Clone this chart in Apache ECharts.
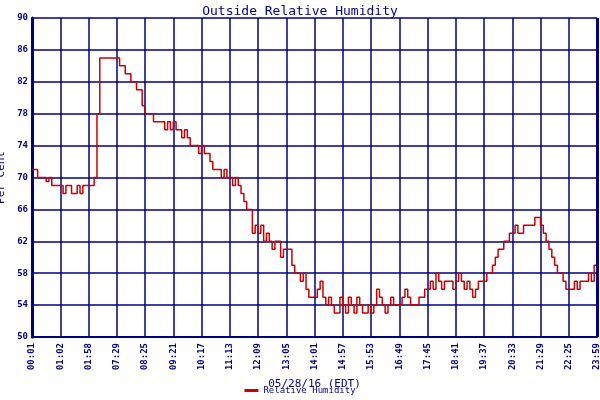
<!DOCTYPE html>
<html><head><meta charset="utf-8">
<script src="https://cdn.jsdelivr.net/npm/echarts@6/dist/echarts.min.js"></script>
<style>html,body{margin:0;background:#fff}#c{width:600px;height:400px}</style>
</head><body><div id="c"></div>
<script>
const tickLabels = ["00:01","01:02","01:58","07:29","08:25","09:21","10:17","11:13","12:09","13:05","14:01","14:57","15:53","16:49","17:45","18:41","19:37","20:33","21:29","22:25","23:59"];
const humidity = [
71,71,70,70,70,69.5,70,69,69,69,
69,68,69,69,68,68,69,68,69,69,
69,69,70,78,85,85,85,85,85,85,
85,84,84,83,83,82,82,81,81,79,
78,78,78,77,77,77,77,76,77,76,
77,76,76,75,76,75,74,74,74,73,
74,73,73,72,71,71,71,70,71,70,
70,69,70,69,68,67,66,66,63,64,
63,64,62,63,62,61,62,62,60,61,
61,61,59,58,58,57,58,56,55,55,
55,56,57,55,54,55,54,53,53,55,
54,53,55,54,53,55,54,53,53,54,
53,54,56,55,54,53,54,55,54,54,
54,55,56,55,54,54,54,55,55,56,
56,57,56,58,57,56,57,57,57,56,
57,58,57,56,57,56,55,56,57,57,
57,58,58,59,60,61,61,62,62,63,
63,64,63,63,64,64,64,64,65,65,
64,63,62,61,60,59,58,58,57,56,
56,56,57,56,57,57,57,58,57,59,
59];
const categories = humidity.map((v,i)=> i%10===0 ? tickLabels[i/10] : '');
const yTicks = [50,54,58,62,66,70,74,78,82,86,90];
const navy = '#000080', font = 'DejaVu Sans Mono';
const chart = echarts.init(document.getElementById('c'));
chart.setOption({
  backgroundColor:'#fff', animation:false,
  title:{text:'Outside Relative Humidity',left:'center',top:0,textStyle:{color:navy,fontFamily:font,fontSize:13,fontWeight:'normal'}},
  legend:{bottom:0,left:'center',itemWidth:14,itemHeight:3,icon:'rect',textStyle:{color:navy,fontFamily:font,fontSize:9},data:['Relative Humidity']},
  grid:{left:32,right:3,top:18,bottom:63,containLabel:false,outerBoundsMode:'none'},
  xAxis:{type:'category',data:categories,boundaryGap:false,name:'05/28/16 (EDT)',nameLocation:'middle',nameGap:42,
    nameTextStyle:{color:navy,fontFamily:font,fontSize:11},
    axisLine:{lineStyle:{color:navy,width:2}},axisTick:{show:false},
    axisLabel:{interval:(i)=>i%10===0,rotate:90,color:navy,fontFamily:font,fontSize:9,fontWeight:'bold',margin:6},
    splitLine:{show:true,interval:(i)=>i%10===0,lineStyle:{color:navy,width:1.5}}},
  yAxis:{type:'value',min:yTicks[0],max:yTicks[yTicks.length-1],interval:4,name:'Per Cent',nameLocation:'middle',nameGap:22,
    nameTextStyle:{color:navy,fontFamily:font,fontSize:11},
    axisLine:{show:true,lineStyle:{color:navy,width:3}},axisTick:{show:false},
    axisLabel:{color:navy,fontFamily:font,fontSize:9,fontWeight:'bold',margin:4},
    splitLine:{lineStyle:{color:navy,width:1.5}}},
  series:[{name:'Relative Humidity',type:'line',step:'end',data:humidity,symbol:'none',
    lineStyle:{color:'#cc0000',width:1.5},itemStyle:{color:'#cc0000'}},
    {type:'line',data:[],markLine:{silent:true,symbol:'none',label:{show:false},lineStyle:{color:navy,width:3,type:'solid'},data:[{xAxis:humidity.length-1}]}}]
});
</script></body></html>
